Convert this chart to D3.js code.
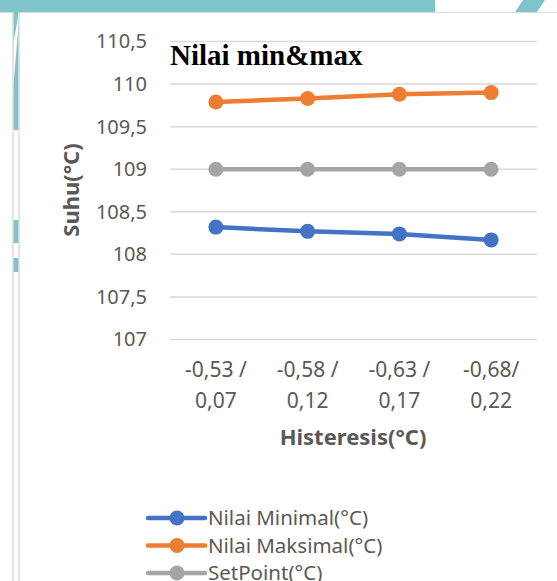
<!DOCTYPE html>
<html><head><meta charset="utf-8">
<script src="https://cdn.jsdelivr.net/npm/d3@7"></script>
<style>body{margin:0;background:#fff}svg{display:block}</style>
</head><body>
<script>
const categories = [["-0,53 /","0,07"],["-0,58 /","0,12"],["-0,63 /","0,17"],["-0,68/","0,22"]];
const minValues = [108.32, 108.27, 108.24, 108.17];
const maxValues = [109.79, 109.83, 109.88, 109.90];
const setPointValues = [109, 109, 109, 109];
const yTicks = [107, 107.5, 108, 108.5, 109, 109.5, 110, 110.5];
const seriesNames = ["Nilai Minimal(°C)", "Nilai Maksimal(°C)", "SetPoint(°C)"];
const seriesColors = ["#4472C4", "#ED7D31", "#A5A5A5"];
const seriesData = [minValues, maxValues, setPointValues];

const W = 557, H = 581;
const svg = d3.select("body").append("svg").attr("width", W).attr("height", H);
svg.append("rect").attr("width", W).attr("height", H).attr("fill", "#fff");

// decorative frame
const teal = "#7FC4CA";
svg.append("rect").attr("x",0).attr("y",0).attr("width",435).attr("height",12).attr("fill",teal);
svg.append("polygon").attr("points","523,0 545,0 537,12 515,12").attr("fill",teal);
svg.append("line").attr("x1",0).attr("x2",W).attr("y1",12.5).attr("y2",12.5).attr("stroke","#ddd").attr("stroke-width",1);
svg.append("polygon").attr("points","13,12 19,12 19,20 13,90 13,130 19,130 19,12").attr("fill",teal);
svg.append("polygon").attr("points","13,12 19,12 13,45").attr("fill",teal);
svg.append("rect").attr("x",13).attr("y",220).attr("width",6).attr("height",23).attr("fill",teal);
svg.append("rect").attr("x",13).attr("y",258).attr("width",6).attr("height",14).attr("fill",teal);
svg.append("line").attr("x1",13).attr("x2",13).attr("y1",12).attr("y2",H).attr("stroke","#ddd").attr("stroke-width",1.5);
svg.append("line").attr("x1",19).attr("x2",19).attr("y1",12).attr("y2",H).attr("stroke","#ddd").attr("stroke-width",1.5);

const x = d3.scaleBand().domain(d3.range(categories.length)).range([170, 537]);
const y = d3.scaleLinear().domain([107, 110.5]).range([339.5, 41.5]);

const font = "'Noto Sans', sans-serif";
const textCol = "#595959";

// gridlines
svg.append("g").selectAll("line").data(yTicks).join("line")
  .attr("x1",170).attr("x2",537).attr("y1",d=>y(d)).attr("y2",d=>y(d))
  .attr("stroke","#D9D9D9").attr("stroke-width",1.5);

// y axis labels
const yAxis = svg.append("g").attr("transform","translate(147,0)")
  .call(d3.axisLeft(y).tickValues(yTicks).tickSize(0).tickPadding(0)
    .tickFormat(d => String(d).replace(".", ",")));
yAxis.select(".domain").remove();
yAxis.selectAll("text").attr("font-family",font).attr("font-size",20).attr("fill",textCol);

// x axis labels
const xg = svg.append("g");
categories.forEach((c,i)=>{
  const t = xg.append("text").attr("x", x(i)+x.bandwidth()/2).attr("text-anchor","middle")
    .attr("font-family",font).attr("font-size",21).attr("fill",textCol);
  c.forEach((line,j)=> t.append("tspan").attr("x", x(i)+x.bandwidth()/2).attr("y", 377 + j*31).text(line));
});

// axis titles
svg.append("text").attr("x",353).attr("y",445).attr("text-anchor","middle")
  .attr("font-family",font).attr("font-size",22).attr("font-weight","bold").attr("fill",textCol)
  .text("Histeresis(°C)");
svg.append("text").attr("transform","translate(79,190) rotate(-90)").attr("text-anchor","middle")
  .attr("font-family",font).attr("font-size",22).attr("font-weight","bold").attr("fill",textCol)
  .text("Suhu(°C)");

// title
svg.append("text").attr("x",170).attr("y",65).attr("font-family","'Liberation Serif', serif")
  .attr("font-size",29).attr("font-weight","bold").attr("fill","#000").text("Nilai min&max");

// series
const line = d3.line().x((d,i)=>x(i)+x.bandwidth()/2).y(d=>y(d));
const order = [2,1,0];
order.forEach(s=>{
  const g = svg.append("g");
  g.append("path").attr("d", line(seriesData[s])).attr("fill","none")
    .attr("stroke",seriesColors[s]).attr("stroke-width",4.5).attr("stroke-linecap","round");
  g.selectAll("circle").data(seriesData[s]).join("circle")
    .attr("cx",(d,i)=>x(i)+x.bandwidth()/2).attr("cy",d=>y(d)).attr("r",7.5).attr("fill",seriesColors[s]);
});

// legend
const leg = svg.append("g");
seriesNames.forEach((n,i)=>{
  const yy = 518 + i*27.5;
  leg.append("line").attr("x1",148).attr("x2",205).attr("y1",yy).attr("y2",yy)
    .attr("stroke",seriesColors[i]).attr("stroke-width",4.5).attr("stroke-linecap","round");
  leg.append("circle").attr("cx",177).attr("cy",yy).attr("r",7.5).attr("fill",seriesColors[i]);
  leg.append("text").attr("x",208).attr("y",yy+7).attr("font-family",font).attr("font-size",20.5)
    .attr("fill",textCol).text(n);
});
</script>
</body></html>
